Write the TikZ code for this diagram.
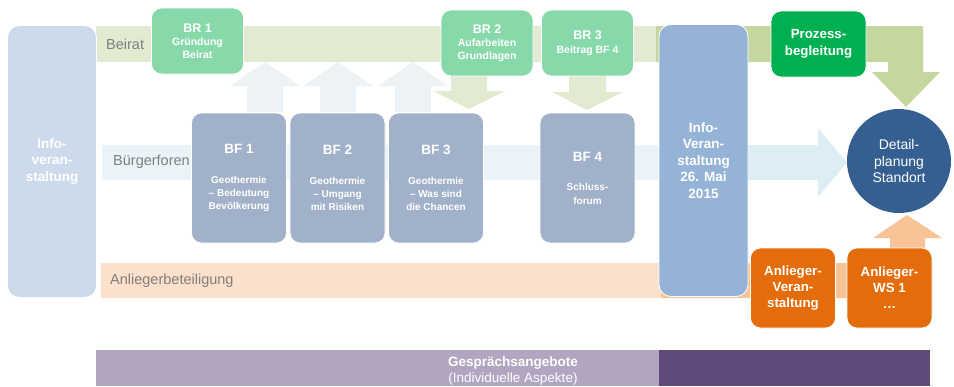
\documentclass[tikz,border=0pt]{standalone}
\usepackage{fontspec}
\setmainfont{Liberation Sans}
\usetikzlibrary{positioning}

\definecolor{bandgreen}{HTML}{E2EAD1}
\definecolor{arrowgreen}{HTML}{C4D79F}
\definecolor{bandblue}{HTML}{EAF4F8}
\definecolor{arrowblue}{HTML}{DCEDF3}
\definecolor{uparrow}{HTML}{EDF2F7}
\definecolor{bandpeach}{HTML}{FBE0CB}
\definecolor{arrowpeach}{HTML}{F9C398}
\definecolor{brgreen}{HTML}{87D9AA}
\definecolor{prozgreen}{HTML}{00B050}
\definecolor{bfblue}{HTML}{A1B1C9}
\definecolor{infolight}{HTML}{CCDAEB}
\definecolor{infoblue}{HTML}{95B3D7}
\definecolor{anlorange}{HTML}{E46C0A}
\definecolor{detailblue}{HTML}{365F91}
\definecolor{talklight}{HTML}{B1A5C0}
\definecolor{talkdark}{HTML}{5F4A7B}
\definecolor{labelgray}{HTML}{7F7F7F}

\newcommand\brtitle[1]{{\fontsize{12.5}{12.5}\selectfont #1}}
\newcommand\bftitle[1]{{\fontsize{13.5}{13.5}\selectfont #1}}

\tikzset{
  box/.style={draw=white, line width=.8pt, rounded corners=10pt, text=white, align=center, inner sep=0pt},
  brbox/.style={box, fill=brgreen, minimum width=92pt, minimum height=66pt, font=\bfseries\fontsize{10.5}{12.5}\selectfont},
  bfbox/.style={box, fill=bfblue, minimum width=95pt, minimum height=130pt, font=\bfseries\fontsize{10}{13.3}\selectfont},
  infobox/.style={box, rounded corners=12pt, minimum width=89pt, minimum height=272pt, font=\bfseries\fontsize{13.5}{16.6}\selectfont},
  anlbox/.style={box, fill=anlorange, minimum width=85pt, minimum height=80pt, font=\bfseries\fontsize{13.3}{16}\selectfont},
  bandlabel/.style={anchor=west, text=labelgray, inner sep=0pt, font=\fontsize{14.5}{17}\selectfont},
}

\begin{document}
\begin{tikzpicture}[x=1pt, y=-1pt]
    \useasboundingbox (0,0) rectangle (954,386);

    % Beirat band with bent arrow down to the circle
    \fill[bandgreen] (96,26) rectangle (659,62);
    \fill[arrowgreen] (656,26) -- (923,26) -- (923,72) -- (940,72) -- (906,107)
        -- (872,72) -- (888,72) -- (888,62) -- (656,62) -- cycle;

    % Buergerforen band with arrow to the circle
    \fill[bandblue] (102,145) rectangle (661,180);
    \fill[arrowblue] (661,145) -- (818,145) -- (818,128) -- (847,162.5)
        -- (818,197) -- (818,180) -- (661,180) -- cycle;

    % Anliegerbeteiligung band with bent arrow up to the circle
    \fill[bandpeach] (101,263) rectangle (661,298);
    \fill[arrowpeach] (661,263) -- (890,263) -- (890,238) -- (873,238) -- (907,215)
        -- (942,238) -- (925,238) -- (925,298) -- (661,298) -- cycle;

    % arrows from the forums up to the Beirat
    \fill[uparrow] (247,112) -- (247,86) -- (230,86) -- (265,62) -- (300,86) -- (283,86) -- (283,112) -- cycle;
    \fill[uparrow] (320,112) -- (320,86) -- (303,86) -- (338,62) -- (373,86) -- (356,86) -- (356,112) -- cycle;
    \fill[uparrow] (395,112) -- (395,86) -- (378,86) -- (413,62) -- (448,86) -- (431,86) -- (431,112) -- cycle;

    % arrows from the Beirat down to the forums
    \fill[bandgreen] (451,76) -- (451,91) -- (433,91) -- (469,109) -- (505,91) -- (487,91) -- (487,76) -- cycle;
    \fill[bandgreen] (569,76) -- (569,92) -- (552,92) -- (587,110) -- (623,92) -- (606,92) -- (606,76) -- cycle;

    \node (beirat) [bandlabel] at (106,44) {Beirat};
    \node (foren) [bandlabel] at (113,162) {Bürgerforen};
    \node (anlieger) [bandlabel] at (110,281) {Anliegerbeteiligung};

    \node (info1) [infobox, fill=infolight] at (52,161.5) {Info-\\veran-\\staltung};
    \node (info2) [infobox, fill=infoblue] at (703.5,160.5) {Info-\\Veran-\\staltung\\26. Mai\\2015};

    \node (br1) [brbox] at (197.5,41) {\brtitle{BR 1}\\[1pt]Gründung\\Beirat};
    \node (br2) [brbox] at (487,43) {\brtitle{BR 2}\\[1pt]Aufarbeiten\\Grundlagen};
    \node (br3) [brbox] at (587.5,43) {\brtitle{BR 3}\\[1pt]Beitrag BF 4};
    \node (proz) [box, fill=prozgreen, minimum width=95pt, minimum height=66pt,
        font=\bfseries\fontsize{13.3}{16.5}\selectfont] at (818.5,44) {Prozess-\\begleitung};

    \node (bf1) [bfbox] at (239,178) {\bftitle{BF 1}\\[16.5pt]Geothermie\\– Bedeutung\\Bevölkerung};
    \node (bf2) [bfbox] at (337.5,178) {\bftitle{BF 2}\\[16.5pt]Geothermie\\– Umgang\\mit Risiken};
    \node (bf3) [bfbox] at (436,178) {\bftitle{BF 3}\\[16.5pt]Geothermie\\– Was sind\\die Chancen};
    \node (bf4) [bfbox] at (587.5,178) {\bftitle{BF 4}\\[16.5pt]Schluss-\\forum};

    \node (anlv) [anlbox] at (793,288) {Anlieger-\\Veran-\\staltung};
    \node (anlws) [anlbox] at (889.5,288) {Anlieger-\\WS 1\\…};

    \node (detail) [circle, fill=detailblue, minimum size=104pt, inner sep=0pt, text=white,
        align=center, font=\fontsize{14}{16.5}\selectfont] at (899,161) {Detail-\\planung\\Standort};

    % Gespraechsangebote
    \fill[talklight] (96,350) rectangle (659,386);
    \fill[talkdark] (659,350) rectangle (930,386);
    \node (talk) [text=white, align=center, inner sep=0pt, font=\fontsize{13.5}{16}\selectfont]
        at (513,371) {\textbf{Gesprächsangebote}\\(Individuelle Aspekte)};
\end{tikzpicture}
\end{document}
